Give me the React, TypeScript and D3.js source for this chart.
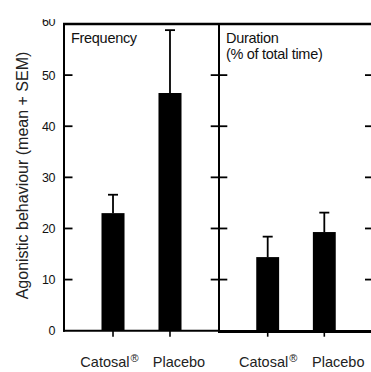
import React from 'react'
import * as d3 from 'd3'

// values
const categories = ['Catosal', 'Placebo']
const frequencyMeans = [23.0, 46.5]
const frequencySem = [3.6, 12.3]
const durationMeans = [14.4, 19.3]
const durationSem = [4.0, 3.8]
const yTicks = [0, 10, 20, 30, 40, 50, 60]
const panelTitles = [['Frequency'], ['Duration', '(% of total time)']]

const FONT = 'Liberation Sans, Arial, Helvetica, sans-serif'
const W = 371
const H = 372

export default function App() {
    const y = d3.scaleLinear().domain([0, 60]).range([330.7, 24])

    const panels = [
        { x0: 64, x1: 219, means: frequencyMeans, sem: frequencySem, title: panelTitles[0], labelShift: [-3.5, 9] },
        { x0: 219, x1: 373, means: durationMeans, sem: durationSem, title: panelTitles[1], labelShift: [0.5, 14] },
    ]

    const inner = yTicks.filter(t => t > 0 && t < 60)

    return (
        <svg width={W} height={H} viewBox={`0 0 ${W} ${H}`}
            style={{ position: 'absolute', left: 0, top: 0, background: '#fff' }}
            fontFamily={FONT}>
            <rect x={0} y={0} width={W} height={H} fill="#fff" />

            {panels.map((p, pi) => {
                const x = d3.scaleBand()
                    .domain(categories)
                    .range([p.x0, p.x1])
                    .paddingInner(0.596)
                    .paddingOuter(0.658)
                const bw = x.bandwidth()
                return (
                    <g key={pi}>
                        {/* bars + error bars */}
                        {categories.map((c, i) => {
                            const cx = (x(c) || 0) + bw / 2
                            const top = y(p.means[i])
                            const errTop = y(p.means[i] + p.sem[i])
                            return (
                                <g key={c}>
                                    <rect x={x(c)} y={top} width={bw} height={y(0) - top} fill="#000" />
                                    <line x1={cx} x2={cx} y1={top} y2={errTop} stroke="#000" strokeWidth={1.8} />
                                    <line x1={cx - 5} x2={cx + 5} y1={errTop} y2={errTop} stroke="#000" strokeWidth={1.8} />
                                    <line x1={cx} x2={cx} y1={y(0)} y2={y(0) + 6} stroke="#000" strokeWidth={1.6} />
                                    <text x={cx + p.labelShift[i]} y={367} textAnchor="middle" fontSize={14.5} fill="#222">
                                        {c}
                                        {i === 0 && <tspan fontSize={11} dx={1} dy={-5.5}>®</tspan>}
                                    </text>
                                </g>
                            )
                        })}
                        {/* panel title */}
                        <text x={p.x0 + 7.5} y={43} fontSize={14.5} fill="#111" letterSpacing={-0.3}>
                            {p.title.map((t, ti) => (
                                <tspan key={ti} x={p.x0 + 7} dy={ti === 0 ? 0 : 15.5}>{t}</tspan>
                            ))}
                        </text>
                    </g>
                )
            })}

            {/* frame */}
            <line x1={64} x2={64} y1={23} y2={331.7} stroke="#000" strokeWidth={2} />
            <line x1={63} x2={W} y1={y(60)} y2={y(60)} stroke="#000" strokeWidth={2.3} />
            <line x1={219} x2={219} y1={23} y2={333} stroke="#000" strokeWidth={2} />
            <line x1={63} x2={219} y1={y(0)} y2={y(0)} stroke="#000" strokeWidth={2} />
            <line x1={219} x2={W} y1={331.6} y2={331.6} stroke="#000" strokeWidth={3} />

            {/* ticks */}
            {inner.map(t => (
                <g key={t}>
                    <line x1={64} x2={72.5} y1={y(t)} y2={y(t)} stroke="#000" strokeWidth={1.8} />
                    <line x1={210.7} x2={227.3} y1={y(t)} y2={y(t)} stroke="#000" strokeWidth={1.8} />
                    <line x1={365} x2={381} y1={y(t)} y2={y(t)} stroke="#000" strokeWidth={1.8} />
                </g>
            ))}

            {/* tick labels */}
            {yTicks.map(t => (
                <text key={t} x={55} y={t === 60 ? y(t) - 3 : y(t)} dy="0.36em" textAnchor="end" fontSize={12.5} fill="#111" letterSpacing={-0.5}>{t}</text>
            ))}
            {/* the top of the figure is cut off */}
            <rect x={30} y={0} width={32} height={19} fill="#fff" />

            {/* y axis title */}
            <text transform="translate(28,175.5) rotate(-90)" textAnchor="middle" fontSize={16} fill="#222">
                Agonistic behaviour (mean + SEM)
            </text>
        </svg>
    )
}
